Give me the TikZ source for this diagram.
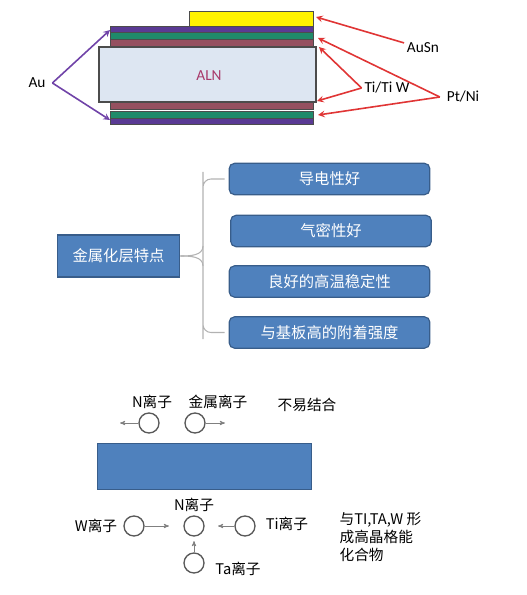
\documentclass[tikz,border=0pt]{standalone}
\usepackage{fontspec}
\setmainfont{Noto Sans CJK SC}
\newfontfamily\latinfont{Carlito}
\usetikzlibrary{arrows}

\definecolor{auviolet}{HTML}{5A3A94}
\definecolor{ptgreen}{HTML}{1F8A6A}
\definecolor{tibrown}{HTML}{955060}
\definecolor{alnfill}{HTML}{DDE6F2}
\definecolor{alntext}{HTML}{A8386A}
\definecolor{boxblue}{HTML}{4F81BD}
\definecolor{boxline}{HTML}{385D8A}
\definecolor{redarrow}{HTML}{E03535}
\definecolor{violetarrow}{HTML}{7043A8}

\tikzset{
  layer/.style={draw=black!70, line width=0.4pt},
  bluebox/.style={draw=boxline, fill=boxblue, text=white, line width=0.9pt,
    font=\fontsize{11.5}{13}\selectfont},
  ion/.style={circle, draw=black!65, fill=white, line width=1pt,
    minimum size=15pt, inner sep=0pt},
  ionlabel/.style={font=\fontsize{11}{13}\selectfont, inner sep=1pt},
  toplabel/.style={font=\latinfont\fontsize{11.5}{13}\selectfont, inner sep=2pt},
  brace/.style={draw=black!30, line width=0.8pt},
  move/.style={->, >=stealth', draw=black!50, line width=0.5pt}
}

\begin{document}
\begin{tikzpicture}[x=0.75pt, y=-0.75pt]
\useasboundingbox (0,0) rectangle (527,595);

% metal layers on the ALN substrate
\filldraw[layer, fill=yellow] (189,11) rectangle (313,26);
\filldraw[layer, fill=auviolet] (110,26) rectangle (313,32);
\filldraw[layer, fill=ptgreen] (110,32) rectangle (313,39);
\filldraw[layer, fill=tibrown] (110,39) rectangle (313,47);
\filldraw[draw=black!70, line width=0.9pt, fill=alnfill] (99,47) rectangle (316,102);
\filldraw[layer, fill=tibrown] (110,102) rectangle (313,109);
\filldraw[layer, fill=ptgreen] (110,111) rectangle (313,118);
\filldraw[layer, fill=auviolet] (110,118) rectangle (313,124);

\node[toplabel, text=alntext] (aln) at (209,76) {ALN};

\coordinate (autop) at (110,30);
\coordinate (aubot) at (110,120);
\coordinate (snend) at (316,17);
\coordinate (titop) at (319,47);
\coordinate (tibot) at (317,101);
\coordinate (pttop) at (318,38);
\coordinate (ptbot) at (318,115);

\node[toplabel, inner sep=5pt] (au) at (37,83) {Au};
\node[toplabel] (ausn) at (423,48) {AuSn};
\node[toplabel] (ti) at (387,88) {Ti/Ti W};
\node[toplabel, inner sep=5pt] (pt) at (463,97) {Pt/Ni};

\draw[->,>=stealth, violetarrow, line width=1.2pt] (au.east) -- (autop);
\draw[->,>=stealth, violetarrow, line width=1.2pt] (au.east) -- (aubot);
\draw[->,>=stealth, redarrow, line width=1.2pt] (ausn.165) -- (snend);
\draw[->,>=stealth, redarrow, line width=1.2pt] (ti.west) -- (titop);
\draw[->,>=stealth, redarrow, line width=1.2pt] (ti.west) -- (tibot);
\draw[->,>=stealth, redarrow, line width=1.2pt] (pt.west) -- (pttop);
\draw[->,>=stealth, redarrow, line width=1.2pt] (pt.west) -- (ptbot);

% features of the metallization
\node[bluebox, minimum width=92pt, minimum height=31.5pt] (0) at (118.5,256) {金属化层特点};
\node[bluebox, rounded corners=4pt, minimum width=150.5pt, minimum height=23.5pt] (1) at (329.5,179) {导电性好};
\node[bluebox, rounded corners=4pt, minimum width=150.5pt, minimum height=23.5pt] (2) at (331,231) {气密性好};
\node[bluebox, rounded corners=4pt, minimum width=150.5pt, minimum height=23.5pt] (3) at (329.5,281.5) {良好的高温稳定性};
\node[bluebox, rounded corners=4pt, minimum width=150.5pt, minimum height=23.5pt] (4) at (329.5,332.5) {与基板高的附着强度};

\coordinate (bracetop) at (203,180);
\coordinate (bracebot) at (203,331);
\draw[brace, rounded corners=6pt] ([xshift=-3pt]1.west) -| (bracetop) -- (bracebot) |- ([xshift=-3pt]4.west);
\draw[brace] (0.east) to [out=0,in=-90] (203,246);
\draw[brace] (0.east) to [out=0,in=90] (203,266);

% ions at the ALN surface
\node[fill=boxblue, draw=boxline, line width=0.9pt, minimum width=161pt, minimum height=35pt] (sub) at (204.5,466.5) {};

\node[ion] (n1) at (149,423) {};
\node[ion] (m1) at (195,423) {};
\coordinate (n1end) at (120,423);
\coordinate (m1end) at (225,423);
\draw[move] (n1.west) -- (n1end);
\draw[move] (m1.east) -- (m1end);
\node[ionlabel] (n1t) at (152,402) {N离子};
\node[ionlabel] (m1t) at (218,402) {金属离子};
\node[ionlabel] (hard) at (307,405) {不易结合};

\node[ion] (n2) at (194,526) {};
\node[ion] (w) at (134,526) {};
\node[ion] (tia) at (245,526) {};
\node[ion] (ta) at (194,563) {};
\coordinate (wend) at (169,526);
\coordinate (tiend) at (218,526);
\coordinate (taend) at (194,541);
\draw[move] (w.east) -- (wend);
\draw[move] (tia.west) -- (tiend);
\draw[move] (ta.north) -- (taend);
\node[ionlabel] (n2t) at (194,505) {N离子};
\node[ionlabel] (wt) at (96,526) {W离子};
\node[ionlabel] (tit) at (287,524) {Ti离子};
\node[ionlabel] (tat) at (238,569) {Ta离子};
\node[ionlabel, anchor=west, align=left, font=\fontsize{11}{13.5}\selectfont] (form) at (338,537)
{与TI,TA,W 形\\成高晶格能\\化合物};
\end{tikzpicture}
\end{document}
